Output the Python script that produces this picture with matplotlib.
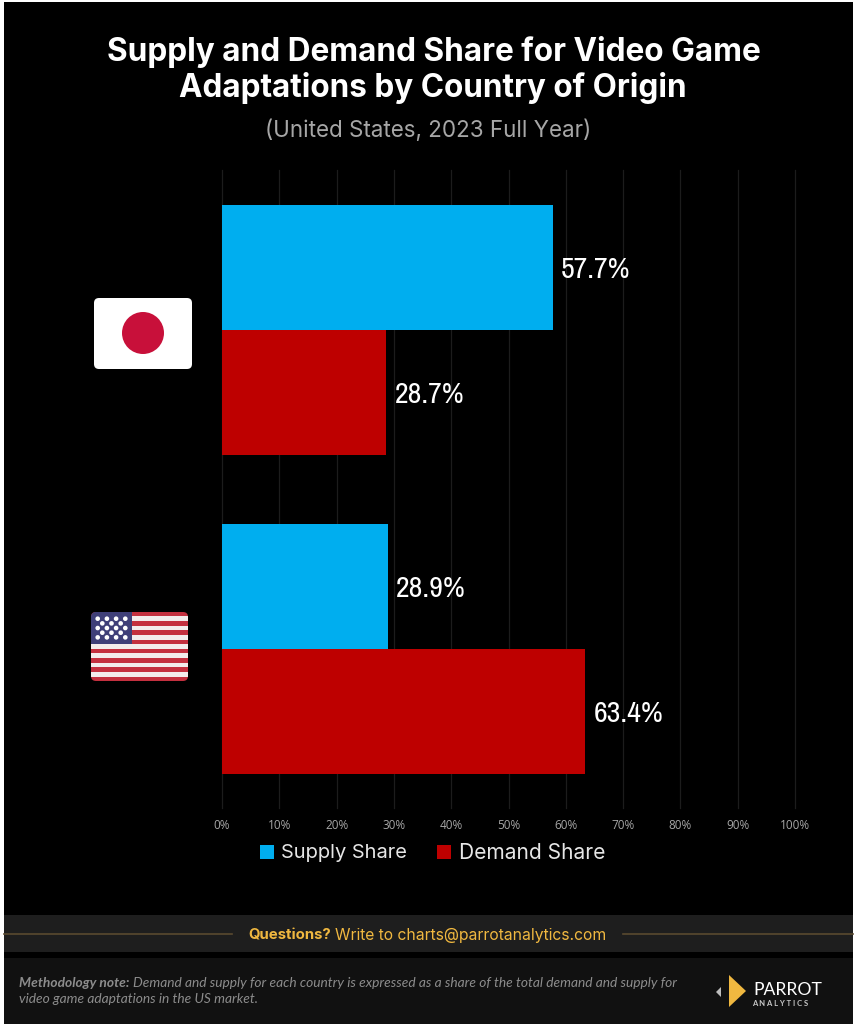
import matplotlib
matplotlib.use("Agg")
import matplotlib.pyplot as plt
from matplotlib.patches import Rectangle, FancyBboxPatch, Circle, Polygon
from matplotlib import font_manager as fm
import numpy as np

countries = ["Japan", "United States"]
supply_share = [57.7, 28.9]
demand_share = [28.7, 63.4]
series_names = ["Supply Share", "Demand Share"]
tick_values = list(range(0, 101, 10))
title_lines = ["Supply and Demand Share for Video Game", "Adaptations by Country of Origin"]
subtitle = "(United States, 2023 Full Year)"

BLUE = "#00AEEF"
RED = "#BE0000"
GOLD = "#F0B840"
W, H = 857, 1024

fig = plt.figure(figsize=(W / 100, H / 100), dpi=100, facecolor="white")
renderer = fig.canvas.get_renderer()

bg = fig.add_axes([0, 0, 1, 1])
bg.set_xlim(0, W); bg.set_ylim(H, 0); bg.axis("off")


def fit(ax_, s, x0, x1, y, **kw):
    """Real text whose font size is chosen so it spans x0..x1 pixels."""
    t = ax_.text(x0, y, s, ha="left", va="center", fontsize=10, **kw)
    w = t.get_window_extent(renderer).width
    t.set_fontsize(10 * (x1 - x0) / w)
    return t


bg.add_patch(Rectangle((4, 2), W - 8, H - 2, fc="#000000", ec="none"))
bg.add_patch(Rectangle((4, 915), W - 8, 37, fc="#1E1E1E", ec="none"))
bg.add_patch(Rectangle((4, 958), W - 8, 66, fc="#111111", ec="none"))
bg.plot([4, 232], [934, 934], color="#5A4A30", lw=1.2)
bg.plot([623, W - 4], [934, 934], color="#5A4A30", lw=1.2)

fit(bg, title_lines[0], 107, 760, 52, color="white", fontweight="bold", family="Inter")
fit(bg, title_lines[1], 179, 687, 88, color="white", fontweight="bold", family="Inter")
fit(bg, subtitle, 265, 592, 131, color="#A6A6A6", family="Inter")

fit(bg, "Questions?", 248, 331, 935, color=GOLD, fontweight="bold", family="Inter")
fit(bg, "Write to charts@parrotanalytics.com", 335, 608, 935, color=GOLD, family="Inter")
fit(bg, "Methodology note:", 19, 129, 983, color="#8C8C8C", fontweight="bold", style="italic", family="Lato")
fit(bg, "Demand and supply for each country is expressed as a share of the total demand and supply for",
    133, 676, 983, color="#8C8C8C", style="italic", family="Lato")
fit(bg, "video game adaptations in the US market.", 19, 258, 999, color="#8C8C8C", style="italic", family="Lato")

bg.add_patch(Polygon([[729, 975], [746, 991], [729, 1007]], fc=GOLD, ec="none"))
bg.add_patch(Polygon([[721, 987], [721, 997], [716, 992]], fc="#BDBDBD", ec="none"))
fit(bg, "PARROT", 753, 821, 990, color="white", family="Lato")
fit(bg, "A N A L Y T I C S", 752, 808, 1003, color="#C8C8C8", fontweight="bold", family="Lato")

# Japan flag
bg.add_patch(FancyBboxPatch((94, 298), 98, 71, boxstyle="round,pad=0,rounding_size=5", fc="white", ec="none", zorder=2))
bg.add_patch(Circle((143, 333), 21, fc="#C8103A", ec="none", zorder=3))

# US flag
fx0, fy0, fw, fh = 91, 612, 97, 69
clip = FancyBboxPatch((fx0, fy0), fw, fh, boxstyle="round,pad=0,rounding_size=5", fc="#C4303F", ec="none", zorder=2)
bg.add_patch(clip)
for i in range(7):
    r = Rectangle((fx0, 616.3 + i * 9.27), fw, 4.8, fc="#F3ECEC", ec="none", zorder=3)
    bg.add_patch(r); r.set_clip_path(clip)
c = Rectangle((fx0, fy0), 41, 32, fc="#3F3F78", ec="none", zorder=4)
bg.add_patch(c); c.set_clip_path(clip)
for row in range(5):
    for k in range(4 if row % 2 == 0 else 3):
        xx = 97.7 + k * 9.2 + (4.6 if row % 2 else 0)
        yy = 618.7 + row * 4.67
        bg.add_patch(Circle((xx, yy), 2.3, fc="white", ec="none", zorder=5))

# chart
left, right, top, bottom = 222, 795, 170, 808
ax = fig.add_axes([left / W, 1 - bottom / H, (right - left) / W, (bottom - top) / H])
ax.patch.set_alpha(0)
ax.set_xlim(0, 100)
ax.set_ylim(len(countries) - 0.5, -0.5)
y = np.arange(len(countries))
bh = 125 / 319
ax.barh(y - bh / 2, supply_share, bh, color=BLUE, zorder=3, label=series_names[0])
ax.barh(y + bh / 2, demand_share, bh, color=RED, zorder=3, label=series_names[1])
ax.set_xticks(tick_values)
ax.set_xticklabels([f"{v}%" for v in tick_values], color="#A6A6A6", fontsize=8.5, family="Open Sans")
ax.set_yticks([])
ax.tick_params(axis="x", length=0, pad=8)
ax.grid(axis="x", color="#1C1C1C", lw=0.9, zorder=0)
for gl in ax.get_xgridlines():
    gl.set_clip_on(False)
for s in ax.spines.values():
    s.set_visible(False)

# condensed face for value labels, if one is installed
names = sorted({f.name for f in fm.fontManager.ttflist})
cond = [n for n in names if "narrow" in n.lower() or "condensed" in n.lower()]
vf = dict(family=cond[0]) if cond else dict(family="DejaVu Sans", stretch="condensed")
vsize = 21.5 if cond else 18.5
for i, (a, b) in enumerate(zip(supply_share, demand_share)):
    ax.text(a + 1.4, i - bh / 2, f"{a}%", color="white", fontsize=vsize, ha="left", va="center_baseline", zorder=4, **vf)
    ax.text(b + 1.4, i + bh / 2, f"{b}%", color="white", fontsize=vsize, ha="left", va="center_baseline", zorder=4, **vf)

# legend
bg.add_patch(Rectangle((260, 845), 14, 14, fc=BLUE, ec="none"))
bg.add_patch(Rectangle((437, 845), 14, 14, fc=RED, ec="none"))
fit(bg, series_names[0], 281, 408, 853, color="#E6E6E6", family="Inter")
fit(bg, series_names[1], 459, 606, 853, color="#E6E6E6", family="Inter")

fig.savefig("out.png", dpi=100, facecolor=fig.get_facecolor())
